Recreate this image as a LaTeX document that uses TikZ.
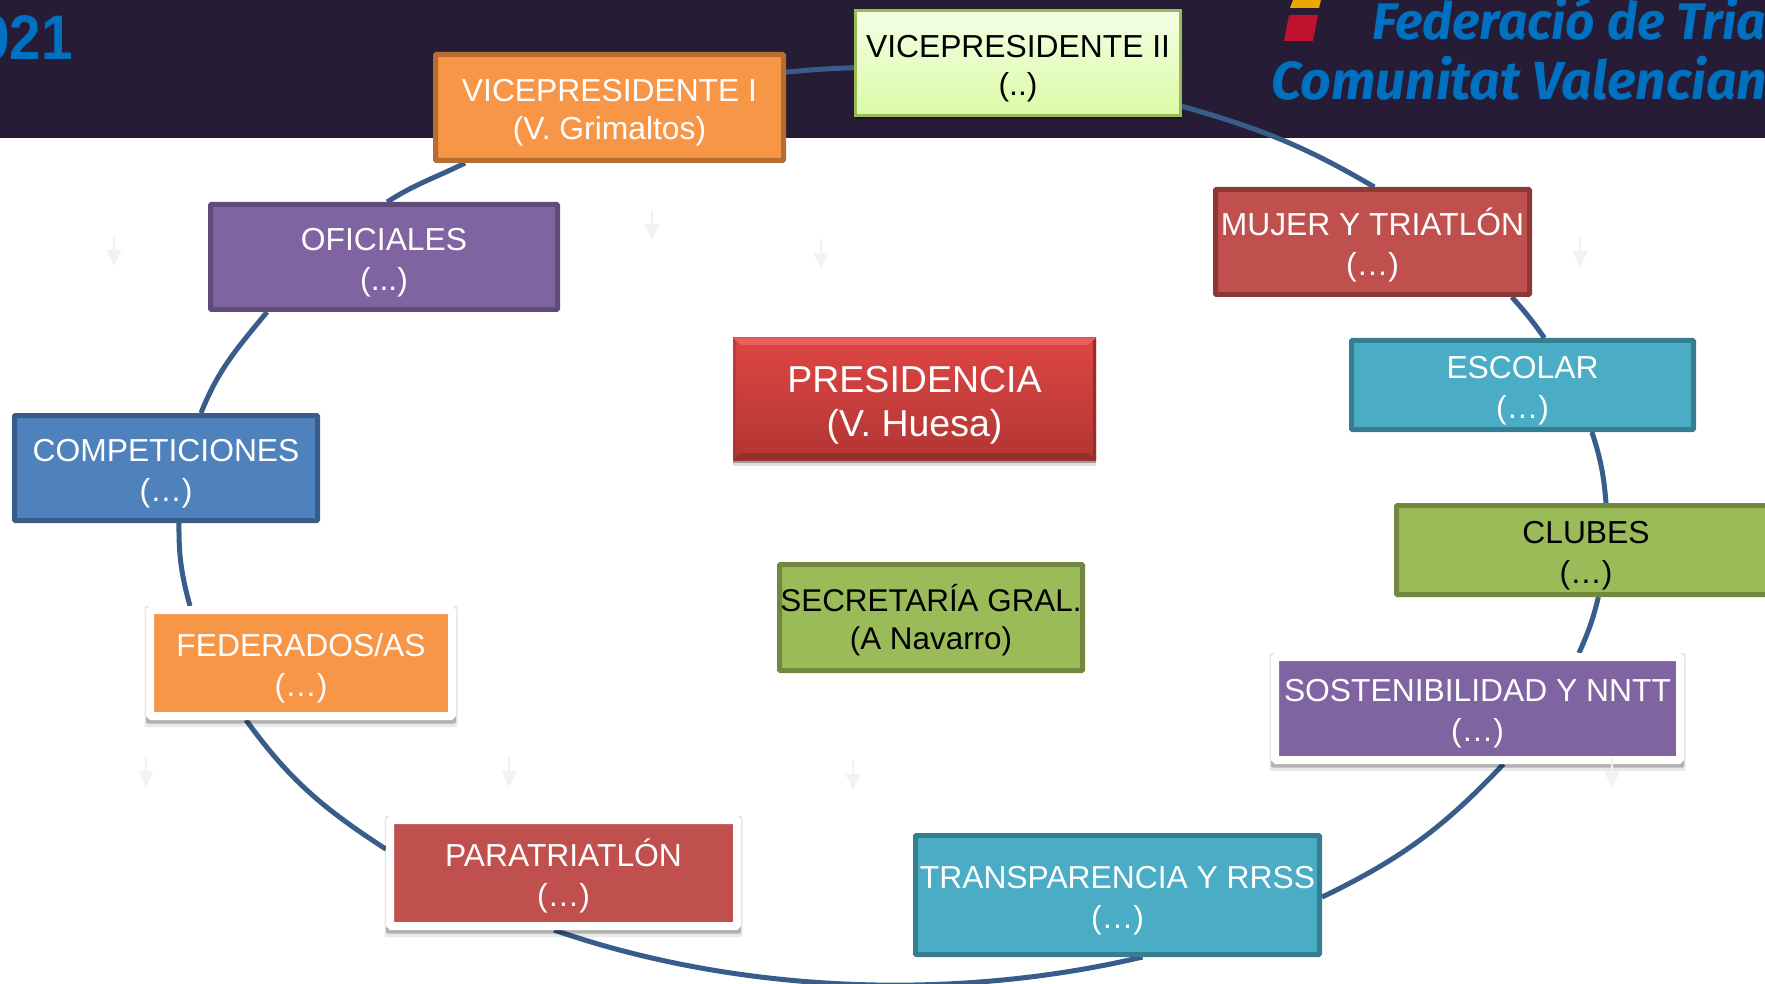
\documentclass[tikz,border=0pt]{standalone}
\usepackage{fontspec}
\setmainfont{Liberation Sans}
\newfontfamily\hdrfont{Fira Sans}
\usetikzlibrary{shadows,backgrounds}
\definecolor{hdrbg}{HTML}{261C36}
\definecolor{hdrblue}{HTML}{0070C0}
\definecolor{ringc}{HTML}{385D8A}
\definecolor{faint}{HTML}{F2F2F2}
\definecolor{orangef}{HTML}{F79646}\definecolor{oranged}{HTML}{B66D31}
\definecolor{purplef}{HTML}{8064A2}\definecolor{purpled}{HTML}{5F4A7A}
\definecolor{redf}{HTML}{C0504D}\definecolor{redd}{HTML}{8C3836}
\definecolor{tealf}{HTML}{4BACC6}\definecolor{teald}{HTML}{357D91}
\definecolor{greenf}{HTML}{9BBB59}\definecolor{greend}{HTML}{71893F}
\definecolor{bluef}{HTML}{4F81BD}\definecolor{blued}{HTML}{385D8A}
\definecolor{vpt}{HTML}{F4FFE6}\definecolor{vpb}{HTML}{DAFBA5}
\definecolor{presT}{HTML}{DE4644}\definecolor{presB}{HTML}{B23533}
\definecolor{presTop}{HTML}{EC5E5B}\definecolor{presBot}{HTML}{93302E}
\definecolor{presSide}{HTML}{A83533}
\definecolor{logoY}{HTML}{EBA900}\definecolor{logoR}{HTML}{C0122F}
\newcommand{\lineup}{\rule{0pt}{32.6pt}}
\tikzset{
  x=1pt,y=1pt,
  base/.style={align=center,inner sep=0pt,font=\fontsize{31.8}{40}\selectfont},
  solidbox/.style n args={4}{base,draw=#2,fill=#1,line width=5pt,rounded corners=1pt,text=#3,
     minimum width=#4},
  softshadow/.style={
     drop shadow={shadow xshift=0pt,shadow yshift=-6pt,opacity=.12,fill=black},
     drop shadow={shadow xshift=0pt,shadow yshift=-3pt,opacity=.3,fill=black}},
  framed/.style={base,draw=white,line width=8pt,rounded corners=1.5pt,text=white},
  ring/.style={draw=ringc,line width=5pt},
  faintarrow/.style={fill=faint,draw=none}
}
\newcommand{\faintdown}[2]{%
  \fill[faintarrow] (#1-1,-#2) -- (#1+1,-#2) -- (#1+1,-#2-14) -- (#1+7.5,-#2-14)
     -- (#1,-#2-30) -- (#1-7.5,-#2-14) -- (#1-1,-#2-14) -- cycle;}
\newcommand{\frameshadow}[1]{%
  \fill[black,opacity=.09,rounded corners=2pt] ([shift={(-1.5pt,-7pt)}]#1.south west) rectangle ([shift={(1.5pt,0pt)}]#1.north east);
  \fill[black,opacity=.24,rounded corners=2pt] ([yshift=-3.5pt]#1.south west) rectangle ([yshift=-3.5pt]#1.north east);}
\begin{document}
\begin{tikzpicture}
\useasboundingbox (0,0) rectangle (1765,-984);

% nodes
\node[solidbox={orangef}{oranged}{white}{348pt},minimum height=106pt,
  font=\fontsize{31.8}{38}\selectfont] (vp1) at (609.5,-107.5) {\lineup VICEPRESIDENTE I\\(V. Grimaltos)};
\node[base,draw=greenf,line width=3pt,top color=vpt,bottom color=vpb,
  minimum width=325pt,minimum height=105pt,text=black,softshadow,
  font=\fontsize{31.8}{38}\selectfont] (vp2) at (1018,-63) {\lineup VICEPRESIDENTE II\\(..)};
\node[solidbox={purplef}{purpled}{white}{347pt},minimum height=105pt] (ofi) at (384,-257) {\lineup OFICIALES\\(...)};
\node[solidbox={redf}{redd}{white}{314pt},minimum height=105pt] (muj) at (1372.5,-242) {\lineup MUJER Y TRIATLÓN\\(…)};
\node[solidbox={tealf}{teald}{white}{342pt},minimum height=89pt] (esc) at (1522.5,-385) {\lineup ESCOLAR\\(…)};
\node[solidbox={greenf}{greend}{black}{379pt},minimum height=89pt] (clu) at (1586,-550) {\lineup CLUBES\\(…)};
\node[framed,fill=purplef,minimum width=405pt,minimum height=103pt] (sos) at (1477.5,-708.5) {\lineup SOSTENIBILIDAD Y NNTT\\(…)};
\node[solidbox={tealf}{teald}{white}{404pt},minimum height=119pt] (tra) at (1117.5,-895) {\lineup TRANSPARENCIA Y RRSS\\(…)};
\node[framed,fill=redf,minimum width=347pt,minimum height=106pt] (par) at (563.5,-873) {\lineup PARATRIATLÓN\\(…)};
\node[framed,fill=orangef,minimum width=302pt,minimum height=106pt] (fed) at (301,-663) {\lineup FEDERADOS/AS\\(…)};
\node[solidbox={bluef}{blued}{white}{303pt},minimum height=105pt] (com) at (166,-468) {\lineup COMPETICIONES\\(…)};
\node[base,minimum width=363pt,minimum height=122pt,text=white,
  top color=presT,bottom color=presB,
  font=\fontsize{37.5}{44}\selectfont,softshadow,
  path picture={
    \coordinate (ne) at (path picture bounding box.north east);
    \coordinate (nw) at (path picture bounding box.north west);
    \coordinate (se) at (path picture bounding box.south east);
    \coordinate (sw) at (path picture bounding box.south west);
    \fill[presTop] (nw) -- (ne) -- ([shift={(-8pt,-7pt)}]ne) -- ([shift={(8pt,-7pt)}]nw) -- cycle;
    \fill[presBot] (sw) -- (se) -- ([shift={(-8pt,7pt)}]se) -- ([shift={(8pt,7pt)}]sw) -- cycle;
    \fill[presSide,opacity=.55] (nw) -- (sw) -- ([shift={(3pt,3pt)}]sw) -- ([shift={(3pt,-3pt)}]nw) -- cycle;
    \fill[presBot] (ne) -- (se) -- ([shift={(-3pt,3pt)}]se) -- ([shift={(-3pt,-3pt)}]ne) -- cycle;
  }] (pre) at (914.5,-399) {\rule{0pt}{38pt}PRESIDENCIA\\(V. Huesa)};
\node[solidbox={greenf}{greend}{black}{303pt},minimum height=106pt,
  font=\fontsize{31.4}{38}\selectfont] (sec) at (931,-617.5) {\lineup SECRETARÍA GRAL.\\(A Navarro)};

% arrow that lies over the frame of SOSTENIBILIDAD
\faintdown{1612}{758}

% header title texts
\node[anchor=base east,inner sep=0pt,text=hdrblue,font=\bfseries\fontsize{63}{63}\selectfont,xscale=.9] (yr) at (73,-60) {021};
\node[anchor=base west,inner sep=0pt,text=hdrblue,font=\hdrfont\bfseries\itshape\fontsize{51.4}{52}\selectfont] (t1) at (1372,-40) {Federació de Tria};
\node[anchor=base west,inner sep=0pt,text=hdrblue,font=\hdrfont\bfseries\itshape\fontsize{53.5}{54}\selectfont] (t2) at (1271,-100) {Comunitat Valencian};

\begin{scope}[on background layer]
  \fill[hdrbg] (0,0) rectangle (1765,-138);
  \fill[logoY] (1293,0) -- (1321,0) -- (1319,-8) -- (1290,-8) -- cycle;
  \fill[logoR] (1289,-15) -- (1318,-15) -- (1313,-41) -- (1284,-41) -- cycle;
  \faintdown{114}{236}
  \faintdown{652}{210}
  \faintdown{821}{239}
  \faintdown{1580}{237}
  \faintdown{146}{757}
  \faintdown{509}{757}
  \faintdown{853}{760}
  % ring segments, node to node
  \draw[ring] ([yshift=35.3pt]vp1.east) to[out=5.6,in=182] ([yshift=-4.7pt]vp2.west);
  \draw[ring] ([yshift=-43.3pt]vp2.east) to[out=-15.9,in=149.6] ([xshift=1.8pt]muj.north);
  \draw[ring] ([xshift=139.3pt]muj.south) to[out=-48.2,in=124.9] ([xshift=21.9pt]esc.north);
  \draw[ring] ([xshift=69.4pt]esc.south) to[out=-72,in=94.5] ([xshift=20pt]clu.north);
  \draw[ring] ([xshift=12.4pt]clu.south) to[out=-103.7,in=65.9] ([xshift=101.5pt]sos.north);
  \draw[ring] ([xshift=26pt]sos.south) to[out=-133.3,in=25.8] ([yshift=-2.1pt]tra.east);
  \draw[ring] ([xshift=25pt]tra.south) to[out=-166.7,in=-19.1,out looseness=.856,in looseness=.83] ([xshift=-9.5pt]par.south);
  \draw[ring] ([yshift=23.8pt]par.west) to[out=147,in=-54.1] ([xshift=-55pt]fed.south);
  \draw[ring] ([xshift=-111pt]fed.north) to[out=105.4,in=-90.6] ([xshift=13pt]com.south);
  \draw[ring] ([xshift=35pt]com.north) to[out=68.4,in=-129.4] ([xshift=-117pt]ofi.south);
  \draw[ring] ([xshift=3.2pt]ofi.north) to[out=32.8,in=-153.5] ([xshift=-144.5pt]vp1.south);
  \frameshadow{sos}
  \frameshadow{par}
  \frameshadow{fed}
\end{scope}
\end{tikzpicture}
\end{document}
